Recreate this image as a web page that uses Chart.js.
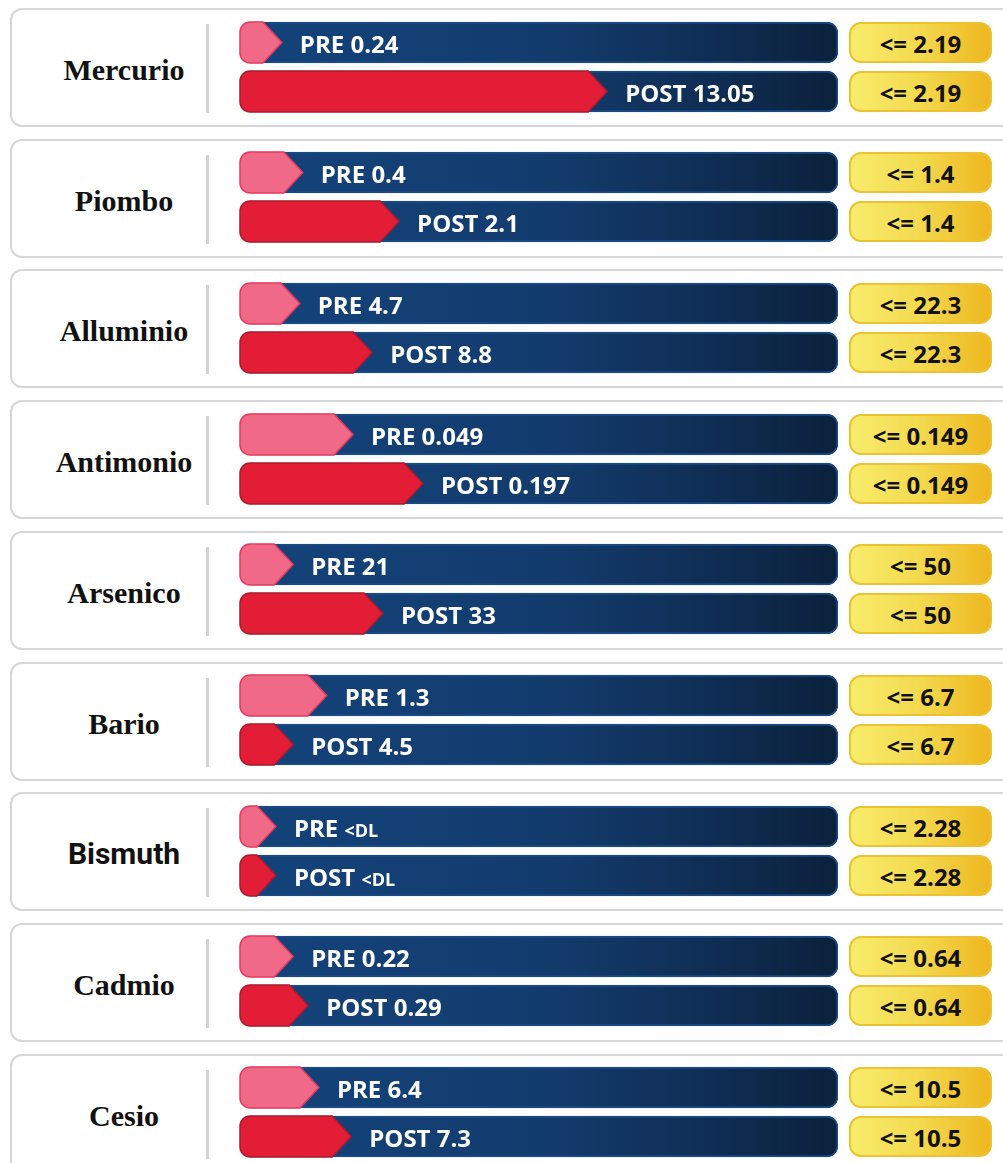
<!DOCTYPE html>
<html lang="it">

<head>
    <meta charset="UTF-8">
    <title>Metalli PRE / POST</title>
    <script src="https://cdn.jsdelivr.net/npm/chart.js"></script>
    <style>
        body {
            margin: 0;
            background: #fff;
            width: 1003px;
            height: 1163px;
            overflow: hidden;
            position: relative;
        }

        .card {
            position: absolute;
            left: 10px;
            width: 1010px;
            height: 119px;
            box-sizing: border-box;
            border: 2.5px solid #d6d6d6;
            border-radius: 12px;
            background: #fff;
        }

        .divider {
            position: absolute;
            left: 206px;
            width: 2.5px;
            height: 89px;
            background: #d4d4d4;
        }

        .name {
            position: absolute;
            left: 40px;
            width: 168px;
            text-align: center;
            font: bold 30px "Liberation Serif", "Times New Roman", serif;
            line-height: 30px;
            color: #111;
        }

        .name.sans {
            font-family: Roboto, "Liberation Sans", sans-serif;
        }

        .limit {
            position: absolute;
            left: 849px;
            width: 143px;
            height: 41px;
            box-sizing: border-box;
            border: 2px solid #ecc232;
            border-radius: 12px;
            background: linear-gradient(90deg, #f8ec6c 0%, #f3d94e 50%, #eeb71f 100%);
            text-align: center;
            font: bold 24px "Open Sans", sans-serif;
            line-height: 37px;
            padding-top: 1px;
            color: #111;
        }

        .chart-box {
            position: absolute;
            left: 236px;
        }
    </style>
</head>

<body>
    <script>
        // dati
        const metals = ['Mercurio', 'Piombo', 'Alluminio', 'Antimonio', 'Arsenico', 'Bario', 'Bismuth', 'Cadmio', 'Cesio'];
        const preValues = [0.24, 0.4, 4.7, 0.049, 21, 1.3, null, 0.22, 6.4];   // null = <DL
        const postValues = [13.05, 2.1, 8.8, 0.197, 33, 4.5, null, 0.29, 7.3];
        const limits = ['2.19', '1.4', '22.3', '0.149', '50', '6.7', '2.28', '0.64', '10.5'];
        // lunghezza della freccia (% della barra), come disegnata nell'originale
        const preFill = [7.0, 10.5, 10.0, 18.9, 8.9, 14.5, 6.0, 8.9, 13.2];
        const postFill = [61.4, 26.6, 22.1, 30.6, 23.9, 8.9, 6.0, 11.4, 18.6];
        const rowLabels = ['PRE', 'POST'];

        const cardStep = 130.7;
        const arrowFill = ['#f06a87', '#e41d37'];
        const arrowEdge = ['#e8385c', '#a81b2d'];

        function trackGradient(context) {
            const chart = context.chart;
            const area = chart.chartArea;
            if (!area) return '#133f74';
            const g = chart.ctx.createLinearGradient(area.left, 0, area.right, 0);
            g.addColorStop(0, '#13437b');
            g.addColorStop(0.5, '#133c6e');
            g.addColorStop(0.8, '#0f2d53');
            g.addColorStop(1, '#0b213b');
            return g;
        }

        // disegna le frecce PRE/POST e le etichette sopra la barra blu
        const arrowPlugin = {
            id: 'arrows',
            afterDatasetsDraw(chart) {
                const ctx = chart.ctx;
                const ds = chart.data.datasets[1];
                chart.getDatasetMeta(1).data.forEach((bar, i) => {
                    const p = bar.getProps(['x', 'y', 'base', 'height'], true);
                    const half = p.height / 2;
                    const left = p.base, tip = p.x, top = p.y - half, bottom = p.y + half;
                    const head = 19, r = 10;
                    ctx.save();
                    ctx.beginPath();
                    ctx.moveTo(left + r, top);
                    ctx.lineTo(tip - head, top);
                    ctx.lineTo(tip, p.y);
                    ctx.lineTo(tip - head, bottom);
                    ctx.lineTo(left + r, bottom);
                    ctx.arcTo(left, bottom, left, bottom - r, r);
                    ctx.lineTo(left, top + r);
                    ctx.arcTo(left, top, left + r, top, r);
                    ctx.closePath();
                    ctx.fillStyle = arrowFill[i];
                    ctx.fill();
                    ctx.lineWidth = 1.5;
                    ctx.strokeStyle = arrowEdge[i];
                    ctx.stroke();

                    // etichetta
                    const v = ds.valueText[i];
                    const tx = tip + 18, ty = p.y + 10.5;
                    ctx.fillStyle = '#fff';
                    ctx.textBaseline = 'alphabetic';
                    ctx.font = 'bold 24px "Open Sans", sans-serif';
                    if (v === null) {
                        const pre = chart.data.labels[i] + ' ';
                        ctx.fillText(pre, tx, ty);
                        const w = ctx.measureText(pre).width;
                        ctx.font = 'bold 18px "Open Sans", sans-serif';
                        ctx.fillText('<DL', tx + w, ty);
                    } else {
                        ctx.fillText(chart.data.labels[i] + ' ' + v, tx, ty);
                    }
                    ctx.restore();
                });
            }
        };

        function createChart(canvas, i) {
            return new Chart(canvas.getContext('2d'), {
                type: 'bar',
                data: {
                    labels: rowLabels,
                    datasets: [
                        {
                            data: [100, 100],
                            backgroundColor: trackGradient,
                            borderColor: '#1a4a86',
                            borderWidth: 2,
                            borderRadius: 11,
                            borderSkipped: false,
                            barThickness: 41
                        },
                        {
                            data: [preFill[i], postFill[i]],
                            valueText: [preValues[i], postValues[i]],
                            backgroundColor: 'rgba(0,0,0,0)',
                            borderWidth: 0,
                            barThickness: 41
                        }
                    ]
                },
                options: {
                    indexAxis: 'y',
                    responsive: false,
                    animation: false,
                    events: [],
                    grouped: false,
                    layout: { padding: { left: 4, right: 4, top: 0, bottom: 0 } },
                    scales: {
                        x: { display: false, min: 0, max: 100 },
                        y: { display: false }
                    },
                    plugins: { legend: { display: false }, tooltip: { enabled: false } }
                },
                plugins: [arrowPlugin]
            });
        }

        metals.forEach((metal, i) => {
            const top = 8 + i * cardStep;

            const card = document.createElement('div');
            card.className = 'card';
            card.style.top = top + 'px';
            document.body.appendChild(card);

            const div = document.createElement('div');
            div.className = 'divider';
            div.style.top = (top + 16) + 'px';
            document.body.appendChild(div);

            const name = document.createElement('div');
            name.className = metal === 'Bismuth' ? 'name sans' : 'name';
            name.style.top = (top + 47) + 'px';
            name.textContent = metal;
            document.body.appendChild(name);

            [13.5, 62.5].forEach(off => {
                const lim = document.createElement('div');
                lim.className = 'limit';
                lim.style.top = (top + off) + 'px';
                lim.textContent = '<= ' + limits[i];
                document.body.appendChild(lim);
            });

            const box = document.createElement('div');
            box.className = 'chart-box';
            box.style.top = (top + 9.5) + 'px';
            const canvas = document.createElement('canvas');
            canvas.width = 606;
            canvas.height = 98;
            box.appendChild(canvas);
            document.body.appendChild(box);
            createChart(canvas, i);
        });
    </script>
</body>

</html>
